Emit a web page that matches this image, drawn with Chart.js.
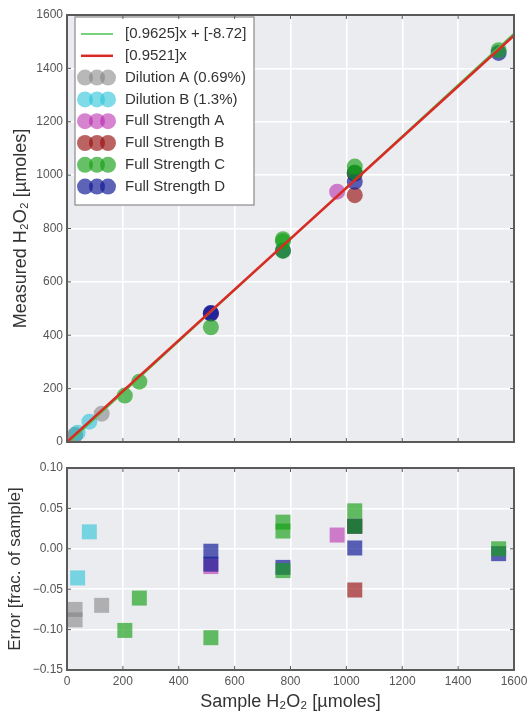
<!DOCTYPE html>
<html>
<head>
<meta charset="utf-8">
<title>H2O2 calibration</title>
<script src="https://cdn.jsdelivr.net/npm/chart.js@4.4.1/dist/chart.umd.min.js"></script>
<style>
    html, body { margin: 0; padding: 0; background: #fff; }
    #wrap { position: relative; width: 528px; height: 711px; }
    .panel { position: absolute; left: 0; }
    #top-panel { top: 0; }
    #err-panel { top: 455px; }
</style>
</head>
<body>
<div id="wrap">
    <div class="panel" id="top-panel"><canvas id="measured-chart" width="528" height="455"></canvas></div>
    <div class="panel" id="err-panel"><canvas id="error-chart" width="528" height="256"></canvas></div>
</div>
<script>
// series names and colours (legend order)
const seriesNames = ['Dilution A (0.69%)', 'Dilution B (1.3%)', 'Full Strength A', 'Full Strength B', 'Full Strength C', 'Full Strength D'];
const seriesColors = ['rgba(125,125,125,0.55)', 'rgba(40,195,215,0.6)', 'rgba(180,30,170,0.55)', 'rgba(150,15,15,0.65)', 'rgba(20,160,20,0.65)', 'rgba(16,25,149,0.68)'];

// sample H2O2 [µmoles]
const dilutionA_x = [29, 29, 124];
const dilutionB_x = [38, 80];
const strengthA_x = [515, 967];
const strengthB_x = [1030, 1030];
const strengthC_x = [207, 259, 515, 773, 773, 773, 1030, 1030, 1545];
const strengthD_x = [515, 515, 773, 1030, 1030, 1545];

// measured H2O2 [µmoles]
const dilutionA_y = [25, 27, 106];
const dilutionB_y = [35, 76];
const strengthA_y = [480, 938];
const strengthB_y = [1006, 925];
const strengthC_y = [174, 226, 430, 760, 752, 716, 1032, 1010, 1468];
const strengthD_y = [483, 482, 718, 975, 1008, 1458];

// error [frac. of sample]
const dilutionA_err = [-0.075, -0.088, -0.070];
const dilutionB_err = [-0.036, 0.021];
const strengthA_err = [-0.022, 0.017];
const strengthB_err = [0.028, -0.051];
const strengthC_err = [-0.101, -0.061, -0.110, 0.033, 0.022, -0.027, 0.047, 0.028, 0.000];
const strengthD_err = [-0.003, -0.019, -0.023, 0.001, 0.028, -0.006];

// fitted lines
const fitLabels = ['[0.9625]x + [-8.72]', '[0.9521]x'];
const fitSlopes = [0.9625, 0.9521];
const fitIntercepts = [-8.72, 0];
const fitColors = ['#4cc34c', '#d92b25'];
const fitWidths = [1.5, 2.5];
const fitRange = [0, 1600];

// tick labels
const xTicks = [0, 200, 400, 600, 800, 1000, 1200, 1400, 1600];
const measuredTicks = [0, 200, 400, 600, 800, 1000, 1200, 1400, 1600];
const errorTicks = [-0.15, -0.10, -0.05, 0.00, 0.05, 0.10];

const xValues = [dilutionA_x, dilutionB_x, strengthA_x, strengthB_x, strengthC_x, strengthD_x];
const yValues = [dilutionA_y, dilutionB_y, strengthA_y, strengthB_y, strengthC_y, strengthD_y];
const errValues = [dilutionA_err, dilutionB_err, strengthA_err, strengthB_err, strengthC_err, strengthD_err];
// drawing order: lower numbers end up on top
const seriesOrder = [7, 6, 5, 4, 2, 3];

const FONT = "'Liberation Sans', Arial, sans-serif";
const TICK_COLOR = '#555555';
const TITLE_COLOR = '#333333';
const PLOT_BG = '#ebecef';
const FRAME_COLOR = '#5a5a5a';

document.addEventListener('DOMContentLoaded', function () {
    Chart.defaults.font.family = FONT;
    initMeasuredChart();
    initErrorChart();
});

// grey plot background and a frame with inward ticks on all four sides
const framePlugin = {
    id: 'frame',
    beforeDraw(chart) {
        const { ctx, chartArea: a } = chart;
        ctx.save();
        ctx.fillStyle = PLOT_BG;
        ctx.fillRect(a.left, a.top, a.right - a.left, a.bottom - a.top);
        ctx.restore();
    },
    afterDraw(chart) {
        const { ctx, chartArea: a, scales } = chart;
        const len = 4;
        ctx.save();
        ctx.strokeStyle = FRAME_COLOR;
        ctx.lineWidth = 1;
        ctx.beginPath();
        scales.x.ticks.forEach(t => {
            const px = scales.x.getPixelForValue(t.value);
            ctx.moveTo(px, a.bottom); ctx.lineTo(px, a.bottom - len);
            ctx.moveTo(px, a.top); ctx.lineTo(px, a.top + len);
        });
        scales.y.ticks.forEach(t => {
            const py = scales.y.getPixelForValue(t.value);
            ctx.moveTo(a.left, py); ctx.lineTo(a.left + len, py);
            ctx.moveTo(a.right, py); ctx.lineTo(a.right - len, py);
        });
        ctx.stroke();
        ctx.lineWidth = 2;
        ctx.strokeRect(a.left, a.top, a.right - a.left, a.bottom - a.top);
        ctx.restore();
    }
};

// boxed legend in the upper left corner of the top panel
const boxLegendPlugin = {
    id: 'boxLegend',
    afterDatasetsDraw(chart) {
        const { ctx, chartArea: a } = chart;
        const left = a.left + 8, top = a.top + 2;
        const width = 179, height = 188, step = 21.8;
        ctx.save();
        ctx.fillStyle = '#ffffff';
        ctx.fillRect(left, top, width, height);
        ctx.strokeStyle = '#8a8a8a';
        ctx.lineWidth = 1.2;
        ctx.strokeRect(left, top, width, height);

        ctx.font = '15px ' + FONT;
        ctx.textBaseline = 'middle';
        ctx.textAlign = 'left';
        let row = 0;
        fitLabels.forEach((label, i) => {
            const y = top + 17 + row * step;
            ctx.strokeStyle = fitColors[i];
            ctx.lineWidth = fitWidths[i];
            ctx.beginPath();
            ctx.moveTo(left + 6, y);
            ctx.lineTo(left + 38, y);
            ctx.stroke();
            ctx.fillStyle = TITLE_COLOR;
            ctx.fillText(label, left + 50, y);
            row++;
        });
        seriesNames.forEach((label, i) => {
            const y = top + 17 + row * step;
            ctx.fillStyle = seriesColors[i];
            [10, 22, 33].forEach(dx => {
                ctx.beginPath();
                ctx.arc(left + dx, y, 8, 0, Math.PI * 2);
                ctx.fill();
            });
            ctx.fillStyle = TITLE_COLOR;
            ctx.fillText(label, left + 50, y);
            row++;
        });
        ctx.restore();
    }
};

function pairs(xs, ys) {
    return xs.map((x, i) => ({ x: x, y: ys[i] }));
}

function gridOptions() {
    return { color: '#ffffff', lineWidth: 1.5, drawTicks: false };
}

function titleFont(size) {
    return { family: FONT, size: size };
}

// plain numbers, no thousands separator
function plainTick(value) {
    return String(value);
}

// top panel: measured vs sample
function initMeasuredChart() {
    const ctx = document.getElementById('measured-chart').getContext('2d');

    const datasets = [];
    // red fit on top, then the green one
    [1, 0].forEach((i, k) => {
        datasets.push({
            label: fitLabels[i],
            data: fitRange.map(x => ({ x: x, y: fitSlopes[i] * x + fitIntercepts[i] })),
            showLine: true,
            borderColor: fitColors[i],
            borderWidth: fitWidths[i],
            pointRadius: 0,
            fill: false,
            order: k
        });
    });
    seriesNames.forEach((name, i) => {
        datasets.push({
            label: name,
            data: pairs(xValues[i], yValues[i]),
            backgroundColor: seriesColors[i],
            borderWidth: 0,
            pointRadius: 8,
            pointStyle: 'circle',
            order: seriesOrder[i]
        });
    });

    new Chart(ctx, {
        type: 'scatter',
        data: { datasets: datasets },
        options: {
            responsive: false,
            animation: false,
            layout: { padding: { top: 15, right: 14, bottom: 13, left: 0 } },
            plugins: { legend: { display: false }, tooltip: { enabled: false } },
            scales: {
                x: {
                    type: 'linear',
                    min: 0,
                    max: 1600,
                    afterBuildTicks: s => { s.ticks = xTicks.map(v => ({ value: v })); },
                    afterFit: s => { s.height = 0; s.paddingLeft = 0; s.paddingRight = 0; },
                    ticks: { display: false },
                    grid: gridOptions(),
                    border: { display: false }
                },
                y: {
                    min: 0,
                    max: 1600,
                    afterBuildTicks: s => { s.ticks = measuredTicks.map(v => ({ value: v })); },
                    afterFit: s => { s.width = 67; },
                    ticks: { color: TICK_COLOR, font: { size: 12 }, padding: 4, callback: plainTick },
                    grid: gridOptions(),
                    border: { display: false },
                    title: {
                        display: true,
                        text: 'Measured H₂O₂ [µmoles]',
                        color: TITLE_COLOR,
                        font: titleFont(18),
                        padding: { top: 10, bottom: 0 }
                    }
                }
            }
        },
        plugins: [framePlugin, boxLegendPlugin]
    });
}

// bottom panel: error fraction vs sample
function initErrorChart() {
    const ctx = document.getElementById('error-chart').getContext('2d');

    const datasets = seriesNames.map((name, i) => ({
        label: name,
        data: pairs(xValues[i], errValues[i]),
        backgroundColor: seriesColors[i],
        borderWidth: 0,
        pointRadius: 10.6,
        pointStyle: 'rect',
        order: seriesOrder[i]
    }));

    new Chart(ctx, {
        type: 'scatter',
        data: { datasets: datasets },
        options: {
            responsive: false,
            animation: false,
            layout: { padding: { top: 13, right: 14, bottom: 0, left: 0 } },
            plugins: { legend: { display: false }, tooltip: { enabled: false } },
            scales: {
                x: {
                    type: 'linear',
                    min: 0,
                    max: 1600,
                    afterBuildTicks: s => { s.ticks = xTicks.map(v => ({ value: v })); },
                    afterFit: s => { s.height = 41; s.paddingLeft = 0; s.paddingRight = 0; },
                    ticks: { color: TICK_COLOR, font: { size: 12 }, padding: 4, maxRotation: 0, callback: plainTick },
                    grid: gridOptions(),
                    border: { display: false },
                    title: {
                        display: true,
                        text: 'Sample H₂O₂ [µmoles]',
                        color: TITLE_COLOR,
                        font: titleFont(18),
                        padding: { top: 0, bottom: -2 }
                    }
                },
                y: {
                    min: -0.15,
                    max: 0.10,
                    afterBuildTicks: s => { s.ticks = errorTicks.map(v => ({ value: v })); },
                    afterFit: s => { s.width = 67; },
                    ticks: {
                        color: TICK_COLOR,
                        font: { size: 12 },
                        padding: 4,
                        callback: function (value) {
                            if (Math.abs(value) < 1e-9) return '0.00';
                            return (value < 0 ? '\u2212' : '') + Math.abs(value).toFixed(2);
                        }
                    },
                    grid: gridOptions(),
                    border: { display: false },
                    title: {
                        display: true,
                        text: 'Error [frac. of sample]',
                        color: TITLE_COLOR,
                        font: titleFont(17),
                        padding: { top: 5, bottom: 0 }
                    }
                }
            }
        },
        plugins: [framePlugin]
    });
}
</script>
</body>
</html>
